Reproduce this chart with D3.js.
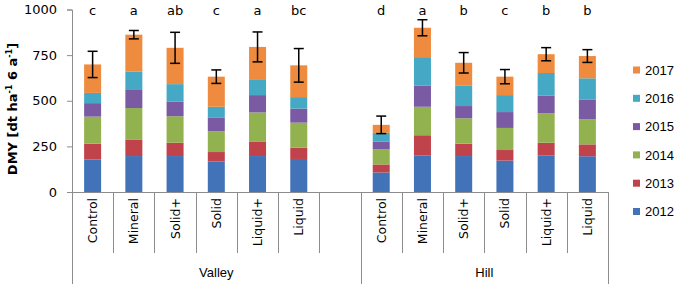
<!DOCTYPE html>
<html><head><meta charset="utf-8">
<script src="https://cdn.jsdelivr.net/npm/d3@7"></script>
<style>body{margin:0;background:#fff}svg{display:block}</style>
</head><body>
<script>
const treatments = ["Control","Mineral","Solid+","Solid","Liquid+","Liquid"];
const sites = ["Valley","Hill"];
const years = ["2012","2013","2014","2015","2016","2017"];
// values per year, Valley (6 treatments) then Hill (6 treatments)
const y2012 = [178,197,197,167,197,181, 107,199,197,172,201,196];
const y2013 = [87,91,73,52,80,62, 44,112,68,58,69,65];
const y2014 = [148,172,145,114,159,137, 84,156,139,121,161,137];
const y2015 = [74,103,81,76,95,77, 42,115,67,87,98,107];
const y2016 = [56,96,95,58,87,63, 47,157,111,93,123,118];
const y2017 = [156,203,199,165,177,174, 44,161,126,101,103,122];
const errors = [72,23,85,37,82,92, 48,44,56,39,36,35];
const letters = ["c","a","ab","c","a","bc","d","a","b","c","b","b"];
const yTicks = [0,250,500,750,1000];
const colors = ["#4273B9","#C0434B","#92B24F","#7A5BA3","#45A8C4","#EE8B3F"];

const W=686,H=286;
const svg=d3.select("body").append("svg").attr("width",W).attr("height",H);
const axisCol="#8c8c8c";

// slots: 6 valley + gap + 6 hill
const slots=[];
sites.forEach((s,i)=>{treatments.forEach(t=>slots.push(s+"|"+t)); if(i===0) slots.push("gap");});
const x=d3.scaleBand().domain(slots).range([72,608]).padding(0);
const y=d3.scaleLinear().domain([0,1000]).range([192,9.5]);
const barW=17;

const series=[y2012,y2013,y2014,y2015,y2016,y2017];
const rows=[];
sites.forEach((s,si)=>treatments.forEach((t,ti)=>{
  const i=si*6+ti; const r={key:s+"|"+t,i};
  years.forEach((yr,k)=>r[yr]=series[k][i]); rows.push(r);
}));
const stacked=d3.stack().keys(years)(rows);

const g=svg.append("g");
stacked.forEach((layer,k)=>{
  g.selectAll(null).data(layer).enter().append("rect")
   .attr("x",d=>x(d.data.key)+(x.bandwidth()-barW)/2)
   .attr("width",barW)
   .attr("y",d=>y(d[1]))
   .attr("height",d=>y(d[0])-y(d[1]))
   .attr("fill",colors[k]);
});
// error bars
const totals=rows.map(r=>({key:r.key,tot:d3.sum(years,yr=>r[yr]),e:errors[r.i],l:letters[r.i]}));
const eb=g.selectAll(null).data(totals).enter().append("g")
  .attr("transform",d=>`translate(${x(d.key)+x.bandwidth()/2},0)`);
const sw=1.5;
eb.append("line").attr("y1",d=>y(d.tot-d.e)).attr("y2",d=>y(d.tot+d.e)).attr("stroke","#000").attr("stroke-width",sw);
eb.append("line").attr("x1",-5).attr("x2",5).attr("y1",d=>y(d.tot-d.e)).attr("y2",d=>y(d.tot-d.e)).attr("stroke","#000").attr("stroke-width",sw);
eb.append("line").attr("x1",-5).attr("x2",5).attr("y1",d=>y(d.tot+d.e)).attr("y2",d=>y(d.tot+d.e)).attr("stroke","#000").attr("stroke-width",sw);
eb.append("text").attr("y",15).attr("text-anchor","middle")
  .attr("font-family","DejaVu Sans").attr("font-size",13).attr("fill","#000").text(d=>d.l);

// y axis
const ya=svg.append("g").attr("transform","translate(72,0)")
  .call(d3.axisLeft(y).tickValues(yTicks).tickSize(5).tickPadding(10).tickFormat(d3.format("d")));
ya.select(".domain").attr("stroke",axisCol);
ya.selectAll(".tick line").attr("stroke",axisCol);
ya.selectAll("text").attr("font-family","DejaVu Sans").attr("font-size",13).attr("fill","#000");

// x axis line and separators
const ax=svg.append("g").attr("stroke",axisCol).attr("stroke-width",1);
ax.append("line").attr("x1",72).attr("x2",608).attr("y1",192.5).attr("y2",192.5);
slots.forEach((s,i)=>{
  const xx=Math.round(x(s))+0.5;
  const isGroup = i===0 || s==="Hill|Control";
  ax.append("line").attr("x1",xx).attr("x2",xx).attr("y1",192).attr("y2",isGroup?284:253);
});
ax.append("line").attr("x1",608.5).attr("x2",608.5).attr("y1",192).attr("y2",284);

// category labels
slots.filter(s=>s!=="gap").forEach(s=>{
  const cx=x(s)+x.bandwidth()/2;
  svg.append("text").attr("transform",`translate(${cx+4.5},198) rotate(-90)`)
    .attr("text-anchor","end").attr("font-family","DejaVu Sans").attr("font-size",12.5)
    .attr("fill","#000").text(s.split("|")[1]);
});
// group labels
const groupExt=[[x("Valley|Control"),x("Hill|Control")],[x("Hill|Control"),608]];
sites.forEach((s,i)=>{
  svg.append("text").attr("x",(groupExt[i][0]+groupExt[i][1])/2).attr("y",277)
   .attr("text-anchor","middle").attr("font-family","Liberation Sans").attr("font-size",13)
   .attr("fill","#000").text(s);
});

// y label
const yl=svg.append("text").attr("transform","translate(17,109) rotate(-90)")
  .attr("text-anchor","middle").attr("font-family","DejaVu Sans").attr("font-weight","bold")
  .attr("font-size",13).attr("fill","#000");
yl.append("tspan").text("DMY [dt ha");
yl.append("tspan").attr("font-size",8).attr("dy",-5).text("-1");
yl.append("tspan").attr("dy",5).text(" 6 a");
yl.append("tspan").attr("font-size",8).attr("dy",-5).text("-1");
yl.append("tspan").attr("dy",5).text("]");

// legend (2017 at top)
const lg=svg.append("g");
years.slice().reverse().forEach((yr,i)=>{
  const k=years.length-1-i;
  const yy=70+i*28.3;
  lg.append("rect").attr("x",633).attr("y",yy-3.5).attr("width",7).attr("height",7).attr("fill",colors[k]);
  lg.append("text").attr("x",645).attr("y",yy+4.7).attr("font-family","Liberation Sans").attr("font-size",13)
    .attr("fill","#000").text(yr);
});
</script>
</body></html>
